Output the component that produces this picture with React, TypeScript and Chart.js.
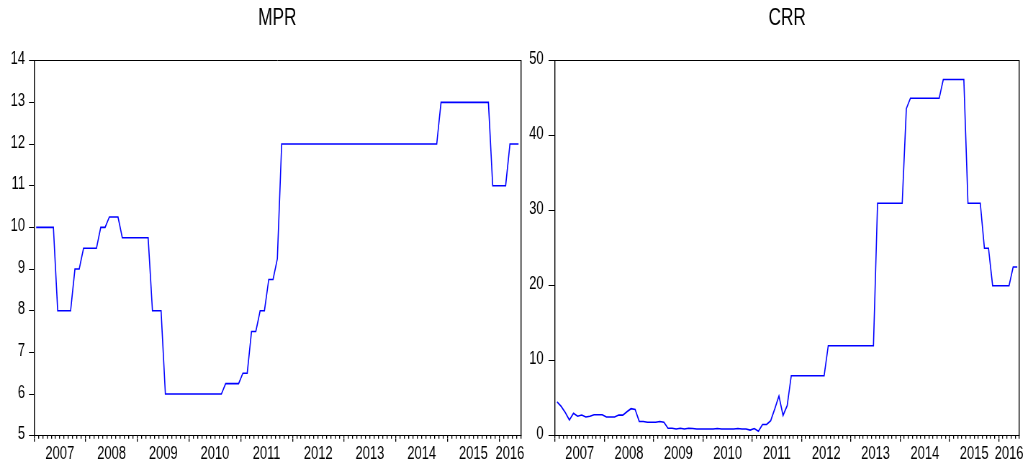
import React, { useEffect, useRef } from 'react';
import { Chart, registerables } from 'chart.js';

Chart.register(...registerables);

// Monthly observations, 2007M01 .. 2016M05 (113 months)
const YEAR_LABELS = ['2007', '2008', '2009', '2010', '2011', '2012', '2013', '2014', '2015', '2016'];

const MPR_VALUES = [
  10, 10, 10, 10, 10, 8, 8, 8, 8, 9, 9, 9.5,
  9.5, 9.5, 9.5, 10, 10, 10.25, 10.25, 10.25, 9.75, 9.75, 9.75, 9.75,
  9.75, 9.75, 9.75, 8, 8, 8, 6, 6, 6, 6, 6, 6,
  6, 6, 6, 6, 6, 6, 6, 6, 6.25, 6.25, 6.25, 6.25,
  6.5, 6.5, 7.5, 7.5, 8, 8, 8.75, 8.75, 9.25, 12, 12, 12,
  12, 12, 12, 12, 12, 12, 12, 12, 12, 12, 12, 12,
  12, 12, 12, 12, 12, 12, 12, 12, 12, 12, 12, 12,
  12, 12, 12, 12, 12, 12, 12, 12, 12, 12, 13, 13,
  13, 13, 13, 13, 13, 13, 13, 13, 13, 13, 11, 11,
  11, 11, 12, 12, 12,
];

const CRR_VALUES = [
  4.5, 3.9, 3.1, 2.1, 3.0, 2.6, 2.75, 2.5, 2.6, 2.8, 2.8, 2.8,
  2.5, 2.5, 2.5, 2.75, 2.75, 3.2, 3.6, 3.5, 1.9, 1.9, 1.8, 1.8,
  1.8, 1.9, 1.8, 1.0, 1.0, 0.9, 1.0, 0.9, 1.0, 0.95, 0.9, 0.9,
  0.9, 0.9, 0.9, 0.95, 0.9, 0.9, 0.9, 0.9, 0.95, 0.9, 0.9, 0.75,
  0.95, 0.6, 1.5, 1.5, 2.0, 3.6, 5.3, 2.7, 4.0, 8, 8, 8,
  8, 8, 8, 8, 8, 8, 12, 12, 12, 12, 12, 12,
  12, 12, 12, 12, 12, 12, 31, 31, 31, 31, 31, 31,
  31, 43.6, 45, 45, 45, 45, 45, 45, 45, 45, 47.5, 47.5,
  47.5, 47.5, 47.5, 47.5, 31, 31, 31, 31, 25, 25, 20, 20,
  20, 20, 20, 22.5, 22.5,
];

const MPR_RANGE = [5, 14, 1];
const CRR_RANGE = [0, 50, 10];

const FONT = "'Liberation Sans', Arial, sans-serif";
const H = 466;
// The canvas is drawn wider than it is shown, which gives the narrow lettering of the original
const SQUEEZE = 0.72;

function buildConfig(
  title: string,
  values: number[],
  range: number[],
  yAxisWidth: number,
  yTickLen: number,
  yTickPad: number,
  padRight: number,
): any {
  const k = 1 / SQUEEZE;
  const n = values.length;
  const xMin = -0.5;
  const xMax = n - 0.5;
  const monthBoundaries: number[] = [];
  for (let i = 0; i <= n; i++) monthBoundaries.push(i - 0.5);
  const yearBoundaries: number[] = [];
  for (let i = 0; i < n; i += 12) yearBoundaries.push(i - 0.5);
  const labelPos: Record<string, string> = {};
  YEAR_LABELS.forEach((lab, j) => {
    const start = j * 12 - 0.5;
    const end = Math.min(start + 12, xMax);
    labelPos[String((start + end) / 2)] = lab;
  });
  const majorTicks = [...yearBoundaries, ...Object.keys(labelPos).map(Number)].sort((a, b) => a - b);
  const isBoundary = (v: number) => yearBoundaries.some((b) => Math.abs(b - v) < 1e-6);

  const resetPad = (s: any) => {
    s.paddingLeft = 0;
    s.paddingRight = 0;
    s.paddingTop = 0;
    s.paddingBottom = 0;
  };

  return {
    type: 'line',
    data: {
      datasets: [
        {
          data: values.map((v, i) => ({ x: i, y: v })),
          borderColor: '#0000ff',
          borderWidth: 1.6,
          pointRadius: 0,
          tension: 0,
          fill: false,
          xAxisID: 'x',
          yAxisID: 'y',
        },
      ],
    },
    options: {
      responsive: false,
      animation: false,
      devicePixelRatio: 1,
      layout: { padding: { left: 0, right: padRight * k, top: 0, bottom: 0 } },
      plugins: {
        legend: { display: false },
        tooltip: { enabled: false },
        title: {
          display: true,
          text: title,
          fullSize: false,
          color: '#000',
          font: { family: FONT, size: 24, weight: 'normal', lineHeight: 1.2 },
          padding: { top: 4.4, bottom: 27.5 },
        },
      },
      scales: {
        x: {
          type: 'linear',
          position: 'bottom',
          min: xMin,
          max: xMax,
          afterBuildTicks: (s: any) => {
            s.ticks = monthBoundaries.map((v) => ({ value: v }));
          },
          afterFit: (s: any) => {
            s.height = 3;
            resetPad(s);
          },
          grid: { drawOnChartArea: false, drawTicks: true, tickLength: 3, color: '#000', lineWidth: 1.3 },
          border: { display: true, color: '#000', width: 1 },
          ticks: { display: false },
        },
        x2: {
          type: 'linear',
          position: 'bottom',
          min: xMin,
          max: xMax,
          afterBuildTicks: (s: any) => {
            s.ticks = majorTicks.map((v) => ({ value: v }));
          },
          afterFit: (s: any) => {
            s.height = H - 435.7 - 3;
            resetPad(s);
          },
          grid: {
            drawOnChartArea: false,
            drawTicks: true,
            tickLength: 3,
            lineWidth: 1.3,
            color: '#000',
            tickColor: (ctx: any) => (ctx.tick && isBoundary(ctx.tick.value) ? '#000' : 'rgba(0,0,0,0)'),
          },
          border: { display: false },
          ticks: {
            autoSkip: false,
            maxRotation: 0,
            minRotation: 0,
            padding: 1.5,
            color: '#000',
            font: { family: FONT, size: 18, lineHeight: 1.2 },
            callback: (v: number) => labelPos[String(v)] || '',
          },
        },
        xt: {
          type: 'linear',
          position: 'top',
          min: xMin,
          max: xMax,
          afterFit: (s: any) => {
            s.height = 0;
            resetPad(s);
          },
          grid: { display: false, drawTicks: false },
          border: { display: true, color: '#000', width: 1 },
          ticks: { display: false },
        },
        y: {
          type: 'linear',
          position: 'left',
          min: range[0],
          max: range[1],
          afterFit: (s: any) => {
            s.width = yAxisWidth * k;
            resetPad(s);
          },
          grid: { drawOnChartArea: false, drawTicks: true, tickLength: yTickLen * k, color: '#000', lineWidth: 1 },
          border: { display: true, color: '#000', width: 1.4 },
          ticks: {
            stepSize: range[2],
            padding: yTickPad * k,
            labelOffset: -1.5,
            color: '#000',
            font: { family: FONT, size: 18 },
          },
        },
        yr: {
          type: 'linear',
          position: 'right',
          min: range[0],
          max: range[1],
          afterFit: (s: any) => {
            s.width = 0;
            resetPad(s);
          },
          grid: { display: false, drawTicks: false },
          border: { display: true, color: '#000', width: 1.4 },
          ticks: { display: false },
        },
      },
    },
  };
}

const LEFT_W = 527;
const RIGHT_W = 1033 - LEFT_W;

export default function App() {
  const leftRef = useRef<HTMLCanvasElement>(null);
  const rightRef = useRef<HTMLCanvasElement>(null);

  useEffect(() => {
    const c1 = new Chart(
      leftRef.current as HTMLCanvasElement,
      buildConfig('MPR', MPR_VALUES, MPR_RANGE, 34, 5, 4, LEFT_W - 520.7),
    );
    const c2 = new Chart(
      rightRef.current as HTMLCanvasElement,
      buildConfig('CRR', CRR_VALUES, CRR_RANGE, 555 - LEFT_W, 6.5, 5, 1033 - 1019.3),
    );
    return () => {
      c1.destroy();
      c2.destroy();
    };
  }, []);

  return (
    <div style={{ position: 'fixed', left: 0, top: 0, width: 1033, height: H, background: '#fff' }}>
      <canvas
        ref={leftRef}
        width={Math.round(LEFT_W / SQUEEZE)}
        height={H}
        style={{ position: 'absolute', left: 0, top: 0, width: LEFT_W, height: H }}
      />
      <canvas
        ref={rightRef}
        width={Math.round(RIGHT_W / SQUEEZE)}
        height={H}
        style={{ position: 'absolute', left: LEFT_W, top: 0, width: RIGHT_W, height: H }}
      />
    </div>
  );
}
